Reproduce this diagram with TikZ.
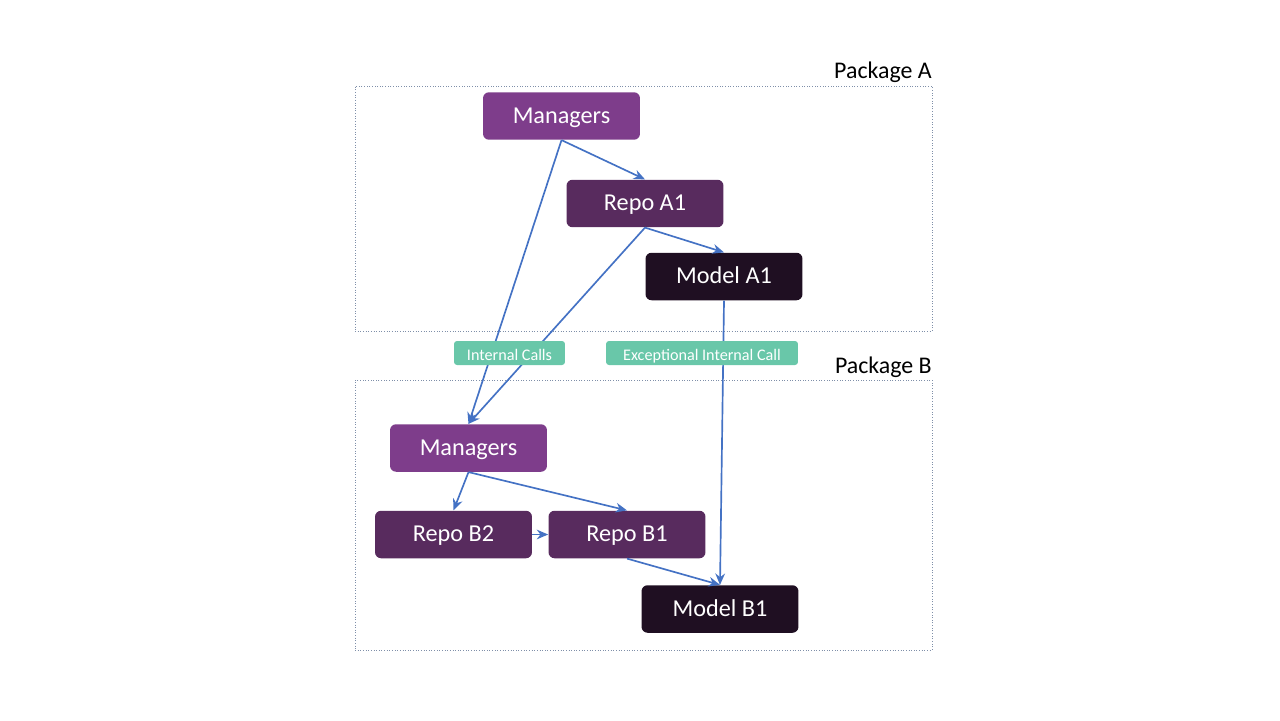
\documentclass[tikz,border=0pt]{standalone}
\usepackage{fontspec}
\setmainfont{Carlito}
\usetikzlibrary{arrows.meta}
\definecolor{mgr}{HTML}{7E3D8B}
\definecolor{repo}{HTML}{582B5E}
\definecolor{mdl}{HTML}{1F0F22}
\definecolor{lbl}{HTML}{69C7A9}
\definecolor{edge}{HTML}{4472C4}
\definecolor{pkg}{HTML}{7F8FA9}
\tikzset{
  box/.style={rounded corners=0.12cm, minimum width=3.14cm, minimum height=0.95cm, text=white, font=\fontsize{13.8}{16}\selectfont, inner sep=0pt, text height=0.84em, text depth=0pt},
  tag/.style={rounded corners=0.06cm, fill=lbl, text=white, minimum height=0.48cm, inner sep=0pt, font=\fontsize{9.2}{11}\selectfont, text height=0.8em, text depth=0pt},
  pkgbox/.style={draw=pkg, line width=0.5pt, densely dotted, inner sep=0pt},
  pkgname/.style={font=\fontsize{13.6}{16}\selectfont, inner sep=0pt, text height=0.84em, text depth=0pt},
  conn/.style={draw=edge, line width=0.95pt, -{Stealth[length=6.5pt,width=5.5pt]}}
}
\begin{document}
\begin{tikzpicture}[x=0.02cm,y=-0.02cm]
\useasboundingbox (0,0) rectangle (1280,720);
% packages
\node[pkgbox, minimum width=11.54cm, minimum height=4.9cm] (pa) at (643.5,208.5) {};
\node[pkgbox, minimum width=11.54cm, minimum height=5.4cm] (pb) at (643.5,515) {};
\node[pkgname, anchor=east] (pan) at (932,71) {Package A};
\node[pkgname, anchor=east] (pbn) at (932,366) {Package B};
% nodes
\node[box, fill=mgr] (mA) at (561.5,116) {Managers};
\node[box, fill=repo] (rA1) at (645,203.5) {Repo A1};
\node[box, fill=mdl] (mdA1) at (724,276.5) {Model A1};
\node[box, fill=mgr] (mB) at (468.5,448) {Managers};
\node[box, fill=repo] (rB2) at (453.5,534.5) {Repo B2};
\node[box, fill=repo] (rB1) at (627,534.5) {Repo B1};
\node[box, fill=mdl] (mdB1) at (720,609) {Model B1};
% connectors
\draw[conn] (mA.south) -- (rA1.north);
\draw[conn] (mA.south) -- (mB.north);
\draw[conn] (rA1.south) -- (mB.north);
\draw[conn] (rA1.south) -- (mdA1.north);
\draw[conn] (mdA1.south) -- (mdB1.north);
\draw[conn] (mB.south) -- (rB2.north);
\draw[conn] (mB.south) -- (rB1.north);
\draw[conn] (rB2.east) -- (rB1.west);
\draw[conn] (rB1.south) -- (mdB1.north);
% labels
\node[tag, minimum width=2.22cm] (ic) at (509.5,353) {Internal Calls};
\node[tag, minimum width=3.84cm] (eic) at (702,353) {Exceptional Internal Call};
\end{tikzpicture}
\end{document}
